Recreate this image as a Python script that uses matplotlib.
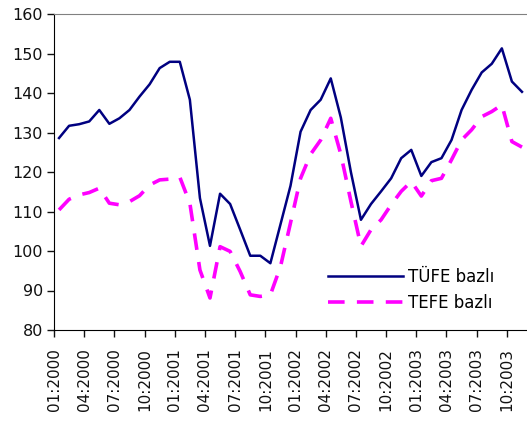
import numpy as np
import matplotlib
matplotlib.use("Agg")
import matplotlib.pyplot as plt

# aylik endeks degerleri, 01:2000 - 11:2003
tufe = [128.6, 131.7, 132.1, 132.8, 135.7, 132.2, 133.6, 135.7, 139.1, 142.2,
        146.3, 147.9, 147.9, 138.3, 113.4, 101.3, 114.5, 111.9, 105.4, 98.8,
        98.8, 96.9, 106.7, 116.5, 130.2, 135.7, 138.3, 143.7, 133.8, 120.0,
        107.9, 111.9, 115.1, 118.4, 123.5, 125.6, 119.0, 122.5, 123.5, 128.1,
        135.7, 140.8, 145.2, 147.4, 151.3, 142.9, 140.3]
tefe = [110.4, 113.1, 114.2, 114.8, 115.9, 112.1, 111.7, 112.5, 114.0, 116.7,
        118.0, 118.2, 118.7, 112.1, 95.2, 88.1, 101.1, 99.9, 94.8, 88.9,
        88.5, 88.9, 96.0, 107.1, 118.4, 124.5, 128.1, 133.6, 124.5, 112.6,
        101.2, 105.4, 107.9, 111.7, 115.1, 117.6, 113.9, 117.8, 118.4, 123.1,
        128.1, 130.7, 134.0, 135.3, 137.0, 127.7, 126.3]
tick_labels = ["01:2000", "04:2000", "07:2000", "10:2000",
               "01:2001", "04:2001", "07:2001", "10:2001",
               "01:2002", "04:2002", "07:2002", "10:2002",
               "01:2003", "04:2003", "07:2003", "10:2003"]

x = np.arange(len(tufe))

fig = plt.figure(figsize=(5.27, 4.21), dpi=100)
ax = fig.add_axes([54 / 527, 91 / 421, 473 / 527, 316 / 421])

ax.plot(x, tufe, color="#000080", lw=1.8, label="TÜFE bazlı")
ax.plot(x, tefe, color="#FF00FF", lw=2.6, dashes=(4.6, 3.4), label="TEFE bazlı")

ax.set_xlim(-0.5, 46.5)
ax.set_ylim(80, 160)
ax.set_yticks(np.arange(80, 161, 10))
ax.set_xticks(np.arange(0, len(tufe), 3) - 0.5)
ax.set_xticklabels(tick_labels, rotation=90)

ax.tick_params(axis="y", length=5, width=1, pad=3, labelsize=11.5, colors="#111111")
ax.tick_params(axis="x", length=5, width=1, pad=8, labelsize=11, colors="#111111")

ax.spines["right"].set_visible(False)
ax.spines["top"].set_color("#808080")
ax.spines["left"].set_color("black")
ax.spines["bottom"].set_color("black")

ax.legend(loc="upper left", bbox_to_anchor=(0.579, 0.196), frameon=False,
          fontsize=12, handlelength=4.5, handletextpad=0.3, borderpad=0,
          borderaxespad=0, labelspacing=0.45)

fig.savefig("out.png", dpi=100)
